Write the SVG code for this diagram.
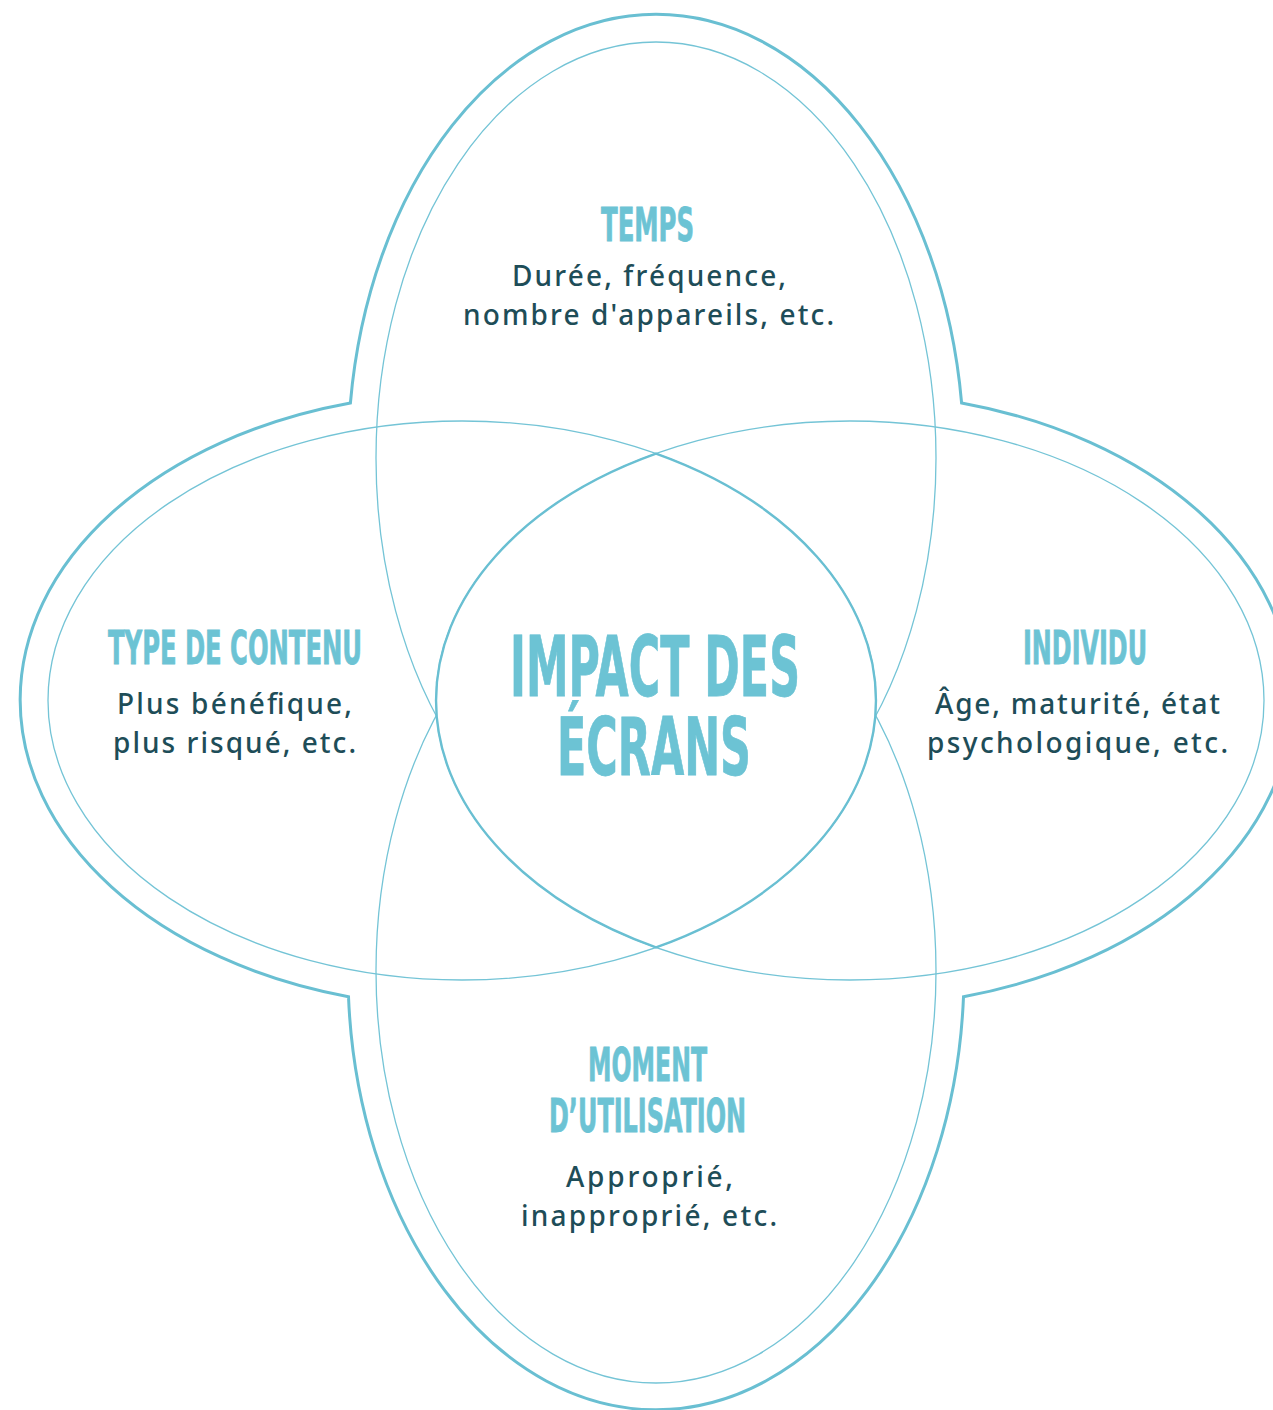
<svg xmlns="http://www.w3.org/2000/svg" width="1273" height="1410" viewBox="0 0 1273 1410">
  <style>
    .outer { fill: none; stroke: #69bfd2; stroke-width: 3; }
    .thin { fill: none; stroke: #74c4d6; stroke-width: 1.3; }
    .lens { fill: #ffffff; stroke: #69bfd2; stroke-width: 2.4; }
    .head { font-family: "Liberation Sans Narrow", "DejaVu Sans Condensed", "Liberation Sans", sans-serif; font-weight: bold; fill: #6cc3d4; stroke: #6cc3d4; stroke-width: 0.8; text-anchor: middle; }
    .body { font-family: "Noto Sans", "Open Sans", "Liberation Sans", sans-serif; font-weight: 500; font-size: 28px; fill: #1e4d58; text-anchor: middle; }
  </style>
  <rect width="1273" height="1410" fill="#ffffff"/>
  <g id="outline">
    <path class="outer" d="M 350.4 403 A 308 444 0 0 1 961.6 403 A 442 307 0 0 1 963.5 996.7 A 308 438 0 0 1 348.5 996.7 A 442 307 0 0 1 350.4 403 Z"/>
  </g>
  <g id="connectors">
    <ellipse class="thin" cx="656" cy="458" rx="280" ry="416"/>
    <ellipse class="thin" cx="656" cy="971" rx="280" ry="412"/>
    <ellipse class="thin" cx="462" cy="700.5" rx="414" ry="279.5"/>
    <ellipse class="thin" cx="850" cy="700.5" rx="414" ry="279.5"/>
  </g>
  <g id="node-center">
    <path class="lens" d="M 656 453.6 A 414 279.5 0 0 1 656 947.4 A 414 279.5 0 0 1 656 453.6 Z"/>
    <text class="head" x="655" y="696" font-size="84" textLength="290" lengthAdjust="spacingAndGlyphs">IMPACT DES</text>
    <text class="head" x="654" y="775" font-size="81" textLength="194" lengthAdjust="spacingAndGlyphs">ÉCRANS</text>
  </g>
  <g id="node-temps">
    <text class="head" x="647.5" y="241" font-size="47" textLength="93" lengthAdjust="spacingAndGlyphs">TEMPS</text>
    <text class="body" x="649" y="286" textLength="274" lengthAdjust="spacing">Durée, fréquence,</text>
    <text class="body" x="648.5" y="325" textLength="371" lengthAdjust="spacing">nombre d'appareils, etc.</text>
  </g>
  <g id="node-type">
    <text class="head" x="235" y="664" font-size="47" textLength="254" lengthAdjust="spacingAndGlyphs">TYPE DE CONTENU</text>
    <text class="body" x="234.5" y="714" textLength="235" lengthAdjust="spacing">Plus bénéfique,</text>
    <text class="body" x="234.5" y="753" textLength="243" lengthAdjust="spacing">plus risqué, etc.</text>
  </g>
  <g id="node-individu">
    <text class="head" x="1085" y="664" font-size="47" textLength="124" lengthAdjust="spacingAndGlyphs">INDIVIDU</text>
    <text class="body" x="1077.5" y="714" textLength="285" lengthAdjust="spacing">Âge, maturité, état</text>
    <text class="body" x="1077.5" y="753" textLength="301" lengthAdjust="spacing">psychologique, etc.</text>
  </g>
  <g id="node-moment">
    <text class="head" x="647.5" y="1081" font-size="47" textLength="119" lengthAdjust="spacingAndGlyphs">MOMENT</text>
    <text class="head" x="647.5" y="1132" font-size="47" textLength="197" lengthAdjust="spacingAndGlyphs">D’UTILISATION</text>
    <text class="body" x="649.5" y="1187" textLength="167" lengthAdjust="spacing">Approprié,</text>
    <text class="body" x="649" y="1226" textLength="256" lengthAdjust="spacing">inapproprié, etc.</text>
  </g>
</svg>
